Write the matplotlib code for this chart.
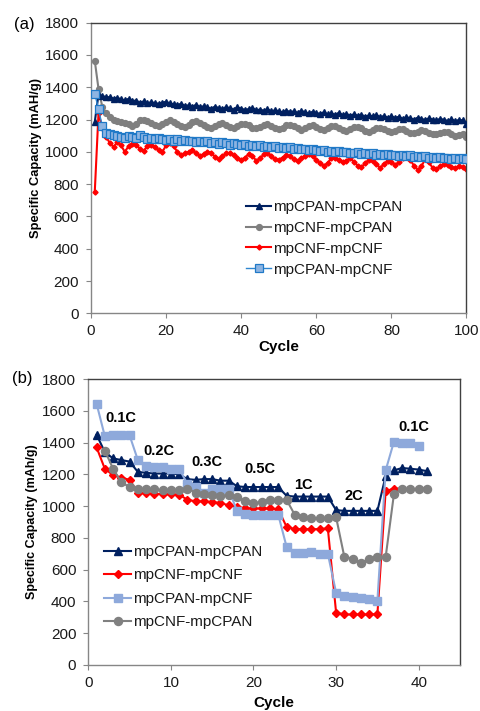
import matplotlib
matplotlib.use("Agg")
import matplotlib.pyplot as plt
import numpy as np

plt.rcParams['font.family'] = ['Liberation Sans', 'DejaVu Sans']

# ---------------- Panel (a) data: cycling at constant rate ----------------
cycles_a = list(range(1, 101))
a_cpan_cpan = [1185, 1355, 1345, 1340, 1338, 1330, 1335, 1325, 1320, 1328,
               1315, 1318, 1305, 1312, 1300, 1308, 1302, 1298, 1305, 1310,
               1300, 1295, 1290, 1298, 1285, 1288, 1280, 1292, 1278, 1282,
               1275, 1268, 1280, 1272, 1265, 1278, 1270, 1262, 1275, 1268,
               1260, 1265, 1272, 1258, 1262, 1255, 1265, 1250, 1258, 1252,
               1245, 1255, 1248, 1250, 1242, 1255, 1245, 1238, 1248, 1240,
               1236, 1245, 1232, 1238, 1230, 1242, 1228, 1235, 1225, 1232,
               1224, 1230, 1218, 1226, 1220, 1228, 1215, 1222, 1212, 1220,
               1210, 1218, 1205, 1215, 1208, 1200, 1212, 1204, 1198, 1208,
               1200, 1195, 1205, 1198, 1192, 1202, 1190, 1198, 1195, 1175]
a_cnf_cpan = [1565, 1390, 1280, 1240, 1215, 1200, 1192, 1185, 1180, 1170,
              1162, 1175, 1195, 1200, 1190, 1178, 1168, 1160, 1172, 1188,
              1195, 1185, 1170, 1158, 1155, 1168, 1182, 1190, 1178, 1165,
              1152, 1148, 1160, 1175, 1178, 1168, 1155, 1148, 1158, 1172,
              1175, 1165, 1150, 1145, 1155, 1168, 1172, 1160, 1148, 1142,
              1150, 1165, 1168, 1158, 1145, 1138, 1148, 1160, 1165, 1155,
              1142, 1136, 1145, 1158, 1160, 1150, 1138, 1132, 1140, 1152,
              1155, 1145, 1132, 1125, 1135, 1148, 1150, 1140, 1128, 1122,
              1130, 1142, 1140, 1128, 1118, 1115, 1125, 1135, 1130, 1118,
              1110, 1108, 1118, 1125, 1120, 1110, 1100, 1102, 1110, 1095]
a_cnf_cnf = [750, 1240, 1150, 1095, 1055, 1030, 1060, 1040, 1000, 1035,
             1050, 1045, 1020, 1005, 1035, 1045, 1030, 1010, 1000, 1040,
             1055, 1035, 1000, 980, 990, 1000, 1010, 990, 975, 985,
             1000, 995, 970, 955, 975, 990, 995, 980, 960, 950,
             965, 985, 975, 945, 960, 985, 990, 975, 955, 950,
             965, 980, 975, 955, 945, 960, 975, 985, 975, 950,
             930, 915, 930, 960, 965, 950, 935, 945, 960, 940,
             915, 905, 930, 950, 945, 925, 900, 925, 945, 940,
             920, 935, 960, 975, 950, 915, 890, 910, 955, 935,
             900, 895, 910, 925, 920, 905, 900, 910, 905, 895]
a_cpan_cnf = [1360, 1265, 1160, 1118, 1110, 1105, 1098, 1092, 1088, 1100,
              1095, 1085, 1102, 1090, 1082, 1085, 1078, 1088, 1080, 1075,
              1082, 1070, 1078, 1068, 1072, 1065, 1070, 1062, 1068, 1058,
              1065, 1055, 1062, 1050, 1058, 1052, 1045, 1055, 1048, 1042,
              1050, 1038, 1045, 1035, 1040, 1032, 1038, 1028, 1035, 1025,
              1030, 1022, 1028, 1018, 1022, 1015, 1020, 1012, 1018, 1010,
              1005, 1012, 1002, 1008, 1000, 1005, 998, 1002, 995, 992,
              998, 988, 995, 985, 990, 982, 988, 980, 985, 978,
              982, 975, 980, 972, 978, 968, 975, 966, 972, 964,
              970, 962, 968, 960, 965, 958, 962, 955, 960, 955]

# ---------------- Panel (b) data: rate capability ----------------
cycles_b = list(range(1, 42))
b_cpan_cpan = [1450, 1340, 1300, 1290, 1280,
               1215, 1210, 1205, 1205, 1205, 1200,
               1170, 1165, 1170, 1170, 1160, 1160,
               1125, 1120, 1120, 1120, 1120, 1120,
               1065, 1060, 1060, 1060, 1060, 1060,
               975, 970, 970, 970, 970, 970,
               1190, 1225, 1240, 1235, 1230, 1220]
b_cnf_cnf = [1370, 1235, 1195, 1180, 1165,
             1085, 1080, 1078, 1075, 1075, 1072,
             1040, 1030, 1030, 1025, 1020, 1005,
             995, 985, 985, 985, 985, 980,
             870, 855, 855, 855, 855, 860,
             330, 318, 318, 318, 318, 320,
             1095, 1110, 1110, 1105, 1110, 1110]
cycles_b_sq = list(range(1, 41))
b_cpan_cnf = [1645, 1440, 1450, 1450, 1445,
              1290, 1255, 1245, 1245, 1235, 1235,
              1140, 1120, 1085, 1105, 1105, 1105,
              970, 950, 945, 945, 945, 945,
              745, 705, 705, 710, 700, 700,
              455, 435, 425, 420, 415, 405,
              1225, 1405, 1395, 1395, 1380]
cycles_b_gr = list(range(2, 42))
b_cnf_cpan = [1350, 1235, 1150, 1120,
              1110, 1105, 1105, 1100, 1100, 1100,
              1110, 1085, 1075, 1070, 1065, 1070,
              1060, 1030, 1020, 1025, 1040, 1040,
              1040, 945, 930, 925, 925, 925,
              930, 680, 670, 645, 665, 680,
              680, 1075, 1110, 1105, 1110, 1110]

rate_labels = ["0.1C", "0.2C", "0.3C", "0.5C", "1C", "2C", "0.1C"]
rate_label_x = [3.9, 8.5, 14.4, 20.8, 26.0, 32.2, 39.4]
rate_label_y = [1554, 1346, 1277, 1231, 1131, 1064, 1498]

y_ticks = list(range(0, 1801, 200))

W, H = 481, 711
fig = plt.figure(figsize=(W / 100, H / 100), dpi=100)

def px_box(l, t, r, b):
    return [l / W, 1 - b / H, (r - l) / W, (b - t) / H]

ax1 = fig.add_axes(px_box(91, 22.7, 466.5, 313.3))
ax2 = fig.add_axes(px_box(88.3, 379, 460, 665))

navy = '#002060'
grey = '#7F7F7F'
red = '#FF0000'

# Panel (a)
ax1.plot(cycles_a, a_cpan_cpan, color=navy, lw=1.5, marker='^', ms=4.3, mec=navy, mfc=navy,
         label='mpCPAN-mpCPAN', zorder=3)
ax1.plot(cycles_a, a_cnf_cpan, color=grey, lw=1.5, marker='o', ms=4.2, mec=grey, mfc=grey,
         label='mpCNF-mpCPAN', zorder=2)
ax1.plot(cycles_a, a_cnf_cnf, color=red, lw=1.5, marker='D', ms=2.6, mec=red, mfc=red,
         label='mpCNF-mpCNF', zorder=2)
ax1.plot(cycles_a, a_cpan_cnf, color='#2E86D0', lw=1.0, marker='s', ms=5.3, mec='#2079C7',
         mfc='#8DB4E2', mew=0.9, label='mpCPAN-mpCNF', zorder=4)
ax1.set_xlim(0, 100)
ax1.set_ylim(0, 1800)
ax1.set_xticks([0, 20, 40, 60, 80, 100])

# Panel (b)
ax2.plot(cycles_b, b_cpan_cpan, color=navy, lw=1.5, marker='^', ms=5.6, mec=navy, mfc=navy,
         label='mpCPAN-mpCPAN', zorder=2)
ax2.plot(cycles_b, b_cnf_cnf, color=red, lw=1.5, marker='D', ms=4.2, mec=red, mfc=red,
         label='mpCNF-mpCNF', zorder=3)
ax2.plot(cycles_b_sq, b_cpan_cnf, color='#8EA9DB', lw=1.5, marker='s', ms=5.6, mec='#8EA9DB',
         mfc='#8EA9DB', label='mpCPAN-mpCNF', zorder=4)
ax2.plot(cycles_b_gr, b_cnf_cpan, color='#808080', lw=1.5, marker='o', ms=5.8, mec='#808080',
         mfc='#808080', label='mpCNF-mpCPAN', zorder=5)
ax2.set_xlim(0, 45)
ax2.set_ylim(0, 1800)
ax2.set_xticks([0, 10, 20, 30, 40])

for t, x, y in zip(rate_labels, rate_label_x, rate_label_y):
    ax2.text(x, y, t, fontsize=10.5, fontweight='bold', ha='center', va='center', color='black',
             zorder=6)

for ax in (ax1, ax2):
    ax.set_yticks(y_ticks)
    ax.tick_params(direction='out', length=3.6, width=0.8, color='#868686', labelsize=11,
                   labelcolor='#1a1a1a', pad=5)
    ax.tick_params(axis='x', pad=4)
    ax.spines['left'].set_color('#868686')
    ax.spines['bottom'].set_color('#868686')
    ax.spines['top'].set_color('#404040')
    ax.spines['right'].set_color('#404040')
    for s in ax.spines.values():
        s.set_linewidth(1.0)

# Legends
leg1 = ax1.legend(loc='upper left', bbox_to_anchor=(246 / W, 1 - 200 / H),
                  bbox_transform=fig.transFigure, frameon=False, fontsize=11,
                  borderpad=0, borderaxespad=0, handlelength=1.65, handletextpad=0.15,
                  labelspacing=0.45)
leg2 = ax2.legend(loc='upper left', bbox_to_anchor=(104 / W, 1 - 545 / H),
                  bbox_transform=fig.transFigure, frameon=False, fontsize=11,
                  borderpad=0, borderaxespad=0, handlelength=1.78, handletextpad=0.1,
                  labelspacing=0.62)
for leg in (leg1, leg2):
    for t in leg.get_texts():
        t.set_color('#1a1a1a')

# Labels
fig.text(36 / W, 1 - 158 / H, 'Specific Capacity (mAH/g)', rotation=90, fontsize=9.3,
         fontweight='bold', ha='center', va='center')
fig.text(32 / W, 1 - 522 / H, 'Specific Capacity (mAh/g)', rotation=90, fontsize=9.0,
         fontweight='bold', ha='center', va='center')
fig.text(279 / W, 1 - 347 / H, 'Cycle', fontsize=11, fontweight='bold', ha='center', va='center')
fig.text(274 / W, 1 - 703 / H, 'Cycle', fontsize=11, fontweight='bold', ha='center', va='center')
fig.text(24 / W, 1 - 24 / H, '(a)', fontsize=12, ha='center', va='center')
fig.text(22 / W, 1 - 379 / H, '(b)', fontsize=12, ha='center', va='center')

fig.savefig('out.png', dpi=100, facecolor='white')
